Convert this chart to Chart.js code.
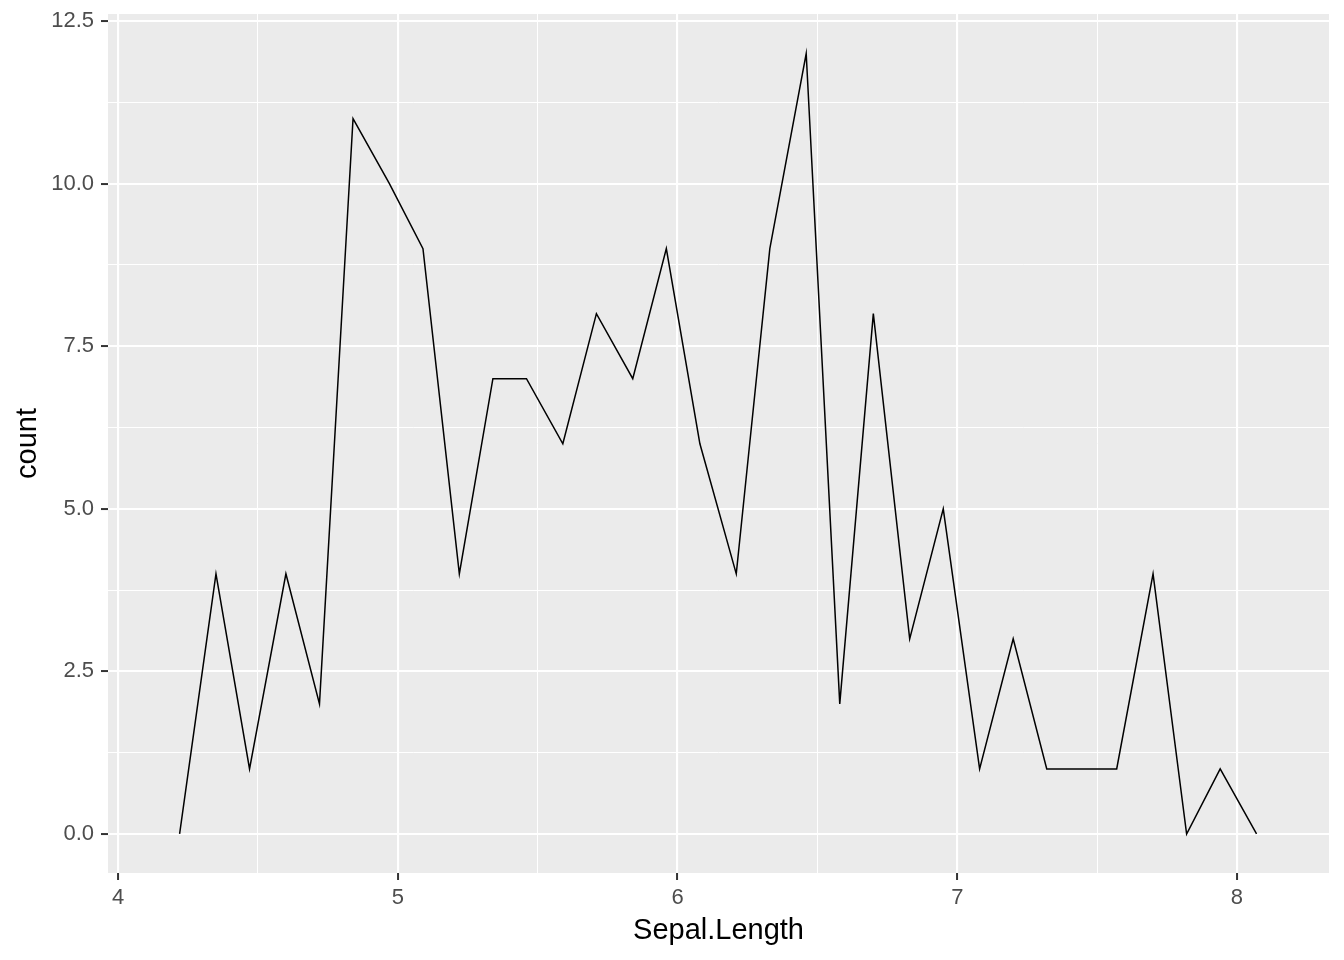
<!DOCTYPE html>
<html>
<head>
<meta charset="utf-8">
<script src="https://cdn.jsdelivr.net/npm/chart.js@4/dist/chart.umd.min.js"></script>
<style>
  body { margin: 0; background: #fff; }
  canvas { display: block; }
</style>
</head>
<body>
<canvas id="chart" width="1344" height="960"></canvas>
<script>
// bin centres (Sepal.Length) and counts, frequency polygon
const sepalLength = [4.22, 4.35, 4.47, 4.60, 4.72, 4.84, 4.97, 5.09, 5.22, 5.34, 5.46, 5.59, 5.71, 5.84, 5.96, 6.08,
                     6.21, 6.33, 6.46, 6.58, 6.70, 6.83, 6.95, 7.08, 7.20, 7.32, 7.45, 7.57, 7.70, 7.82, 7.94, 8.07];
const counts = [0, 4, 1, 4, 2, 11, 10, 9, 4, 7, 7, 6, 8, 7, 9, 6,
                4, 9, 12, 2, 8, 3, 5, 1, 3, 1, 1, 1, 4, 0, 1, 0];
const xTicks = [4, 5, 6, 7, 8];
const yTicks = [0, 2.5, 5, 7.5, 10, 12.5];

const isMajor = (v, list) => list.some(t => Math.abs(t - v) < 1e-6);

// grey panel like ggplot
const panelBg = {
  id: 'panelBg',
  beforeDraw(chart) {
    const { ctx, chartArea: a } = chart;
    ctx.save();
    ctx.fillStyle = '#EBEBEB';
    ctx.fillRect(a.left, a.top, a.right - a.left, a.bottom - a.top);
    ctx.restore();
  }
};

const tickFont = { family: 'Liberation Sans, Arial, sans-serif', size: 22 };
const titleFont = { family: 'Liberation Sans, Arial, sans-serif', size: 29, lineHeight: 1.2 };

new Chart(document.getElementById('chart'), {
  type: 'line',
  data: {
    datasets: [{
      data: sepalLength.map((x, i) => ({ x, y: counts[i] })),
      borderColor: '#000',
      borderWidth: 1.5,
      pointRadius: 0,
      tension: 0,
      fill: false
    }]
  },
  options: {
    responsive: false,
    animation: false,
    layout: { padding: { top: 14, right: 15, left: 0, bottom: 0 } },
    plugins: { legend: { display: false }, tooltip: { enabled: false } },
    scales: {
      x: {
        type: 'linear',
        min: 3.964,
        max: 8.329,
        afterFit(s) { s.height = 87; s.paddingLeft = 0; s.paddingRight = 0; },
        border: { display: false },
        grid: {
          color: '#fff',
          lineWidth: c => isMajor(c.tick.value, xTicks) ? 2.1 : 1,
          tickColor: c => isMajor(c.tick.value, xTicks) ? '#333' : 'rgba(0,0,0,0)',
          tickWidth: 2,
          tickLength: 7
        },
        ticks: {
          stepSize: 0.5,
          includeBounds: false,
          autoSkip: false,
          maxRotation: 0,
          padding: 5,
          color: '#4D4D4D',
          font: tickFont,
          callback: v => isMajor(v, xTicks) ? String(v) : ''
        },
        title: {
          display: true,
          text: 'Sepal.Length',
          color: '#000',
          font: titleFont,
          padding: { top: 12, bottom: 12 }
        }
      },
      y: {
        min: -0.6,
        max: 12.608,
        afterFit(s) { s.width = 108; s.paddingTop = 0; s.paddingBottom = 0; },
        border: { display: false },
        grid: {
          color: '#fff',
          lineWidth: c => isMajor(c.tick.value, yTicks) ? 2.1 : 1,
          tickColor: c => isMajor(c.tick.value, yTicks) ? '#333' : 'rgba(0,0,0,0)',
          tickWidth: 2,
          tickLength: 7
        },
        ticks: {
          stepSize: 1.25,
          includeBounds: false,
          autoSkip: false,
          padding: 7,
          color: '#4D4D4D',
          font: tickFont,
          callback: v => isMajor(v, yTicks) ? v.toFixed(1) : ''
        },
        title: {
          display: true,
          text: 'count',
          color: '#000',
          font: titleFont,
          padding: { top: 11, bottom: 11 }
        }
      }
    }
  },
  plugins: [panelBg]
});
</script>
</body>
</html>
